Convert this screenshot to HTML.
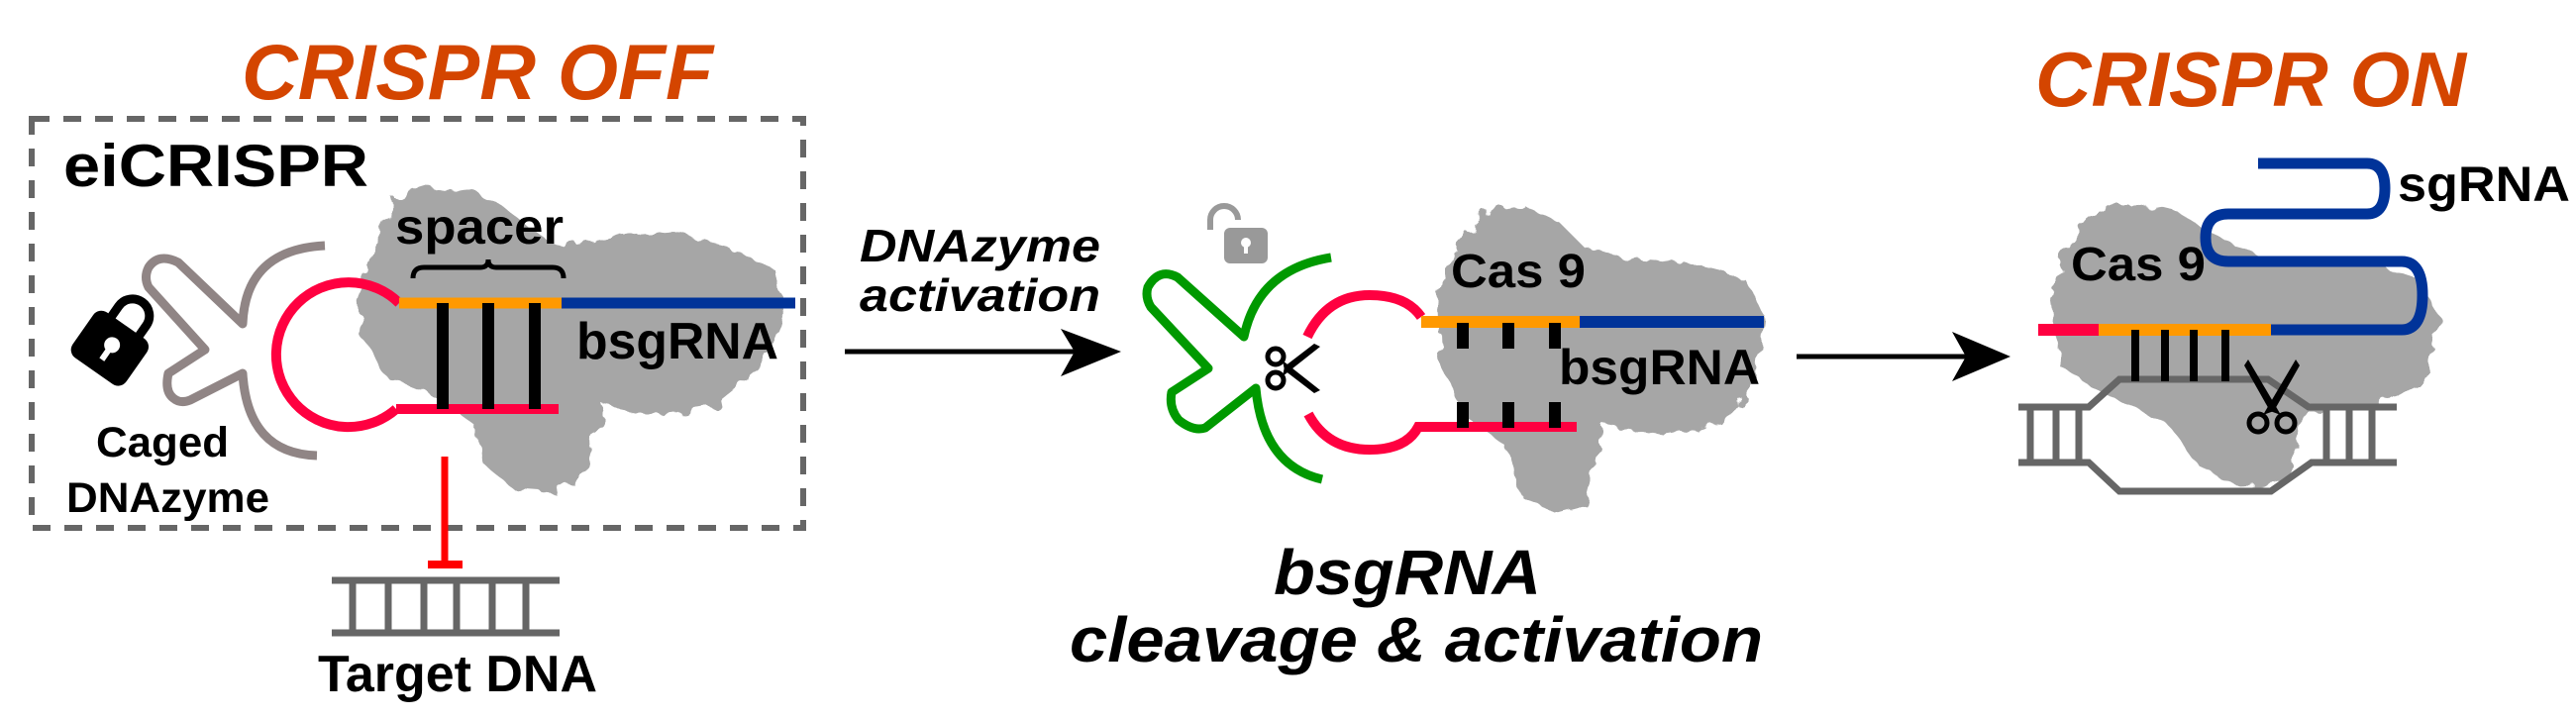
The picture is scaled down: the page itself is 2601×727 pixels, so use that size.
<!DOCTYPE html>
<html><head><meta charset="utf-8"><style>
html,body{margin:0;padding:0;background:#fff;}
svg{display:block;}
text{font-family:"Liberation Sans",Arial,sans-serif;font-weight:bold;}
</style></head><body>
<svg width="2601" height="727" viewBox="0 0 2601 727" xmlns="http://www.w3.org/2000/svg">
<defs>
<filter id="bump" x="-10%" y="-10%" width="120%" height="120%">
<feTurbulence type="fractalNoise" baseFrequency="0.06" numOctaves="2" seed="3" result="n"/>
<feDisplacementMap in="SourceGraphic" in2="n" scale="18"/>
</filter>
</defs>

<!-- Cas9 blobs -->
<g fill="#a2a2a2" filter="url(#bump)" opacity="0.95">
<path d="M361,290 L380,240 L400,200 L440,188 L480,195 L510,210 L540,235 L570,250 L620,240 L680,235 L740,250 L785,275 L790,320 L770,370 L720,410 L660,420 L610,410 L600,440 L590,480 L560,498 L520,495 L490,470 L480,430 L440,400 L390,380 L365,340 Z"/>
<path d="M1452,300 L1470,250 L1500,215 L1540,208 L1575,225 L1600,250 L1640,260 L1700,265 L1760,280 L1783,320 L1775,380 L1740,430 L1680,440 L1620,430 L1610,470 L1600,510 L1570,518 L1535,500 L1520,450 L1480,420 L1455,370 Z"/>
<path d="M2070,300 L2085,250 L2110,220 L2150,203 L2200,215 L2240,240 L2300,265 L2380,260 L2440,280 L2464,320 L2450,380 L2400,410 L2330,415 L2320,450 L2300,490 L2260,492 L2220,470 L2190,430 L2130,400 L2080,370 Z"/>
</g>

<!-- titles -->
<text x="244" y="100" font-size="79" font-style="italic" fill="#d44500" textLength="476" lengthAdjust="spacingAndGlyphs">CRISPR OFF</text>
<text x="2055" y="107" font-size="78" font-style="italic" fill="#d44500" textLength="435" lengthAdjust="spacingAndGlyphs">CRISPR ON</text>

<!-- dashed box -->
<rect x="32" y="120" width="779" height="413" fill="none" stroke="#666" stroke-width="6" stroke-dasharray="18,14"/>
<text x="64" y="188" font-size="60" textLength="308" lengthAdjust="spacingAndGlyphs">eiCRISPR</text>

<!-- gray caged DNAzyme -->
<g fill="none" stroke="#908585" stroke-width="9" stroke-linejoin="round">
<path d="M328,248 Q248,252 245,327 L180,265 Q160,255 150,270 Q145,280 150,290 L207,353 L170,377 Q166,395 175,402 Q182,408 192,404 L245,377 Q250,458 320,460"/>
</g>
<!-- lock -->
<g transform="translate(112,350) rotate(35)">
<path d="M-17,-22 L-17,-38 A17,17 0 0 1 17,-38 L17,-22" fill="none" stroke="#000" stroke-width="9"/>
<rect x="-33" y="-26" width="66" height="56" rx="10" fill="#000"/>
<circle cx="0" cy="-2" r="8" fill="#fff"/>
<rect x="-3" y="0" width="6" height="16" fill="#fff"/>
</g>
<text x="97" y="461" font-size="43" textLength="134" lengthAdjust="spacingAndGlyphs">Caged</text>
<text x="67" y="517" font-size="43" textLength="205" lengthAdjust="spacingAndGlyphs">DNAzyme</text>

<!-- left construct -->
<path d="M403,306 A73,73 0 1 0 400,413" fill="none" stroke="#ff0040" stroke-width="10"/>
<line x1="400" y1="413" x2="564" y2="413" stroke="#ff0040" stroke-width="10"/>
<line x1="403" y1="306" x2="567" y2="306" stroke="#ff9900" stroke-width="11"/>
<line x1="567" y1="306" x2="803" y2="306" stroke="#003399" stroke-width="11"/>
<g stroke="#000" stroke-width="12">
<line x1="447" y1="306" x2="447" y2="413"/><line x1="493" y1="306" x2="493" y2="413"/><line x1="540" y1="306" x2="540" y2="413"/>
</g>
<path d="M417,281 Q417,270 428,270 L485,270 Q493,270 493,262 Q493,270 501,270 L558,270 Q569,270 569,281" fill="none" stroke="#000" stroke-width="5"/>
<text x="399" y="246" font-size="50" textLength="170" lengthAdjust="spacingAndGlyphs">spacer</text>
<text x="582" y="362" font-size="52" textLength="204" lengthAdjust="spacingAndGlyphs">bsgRNA</text>

<!-- inhibition -->
<line x1="449" y1="461" x2="449" y2="570" stroke="#ff0000" stroke-width="7"/>
<line x1="432" y1="570" x2="467" y2="570" stroke="#ff0000" stroke-width="8"/>
<g stroke="#666" stroke-width="7">
<line x1="335" y1="586" x2="565" y2="586"/><line x1="335" y1="639" x2="565" y2="639"/>
<line x1="356" y1="586" x2="356" y2="639"/><line x1="392" y1="586" x2="392" y2="639"/><line x1="428" y1="586" x2="428" y2="639"/>
<line x1="461" y1="586" x2="461" y2="639"/><line x1="497" y1="586" x2="497" y2="639"/><line x1="531" y1="586" x2="531" y2="639"/>
</g>
<text x="321" y="698" font-size="52" textLength="282" lengthAdjust="spacingAndGlyphs">Target DNA</text>

<!-- arrow 1 -->
<line x1="853" y1="355" x2="1085" y2="355" stroke="#000" stroke-width="5"/>
<path d="M1071,332 L1132,355 L1071,380 L1085,355 Z" fill="#000"/>
<text x="868" y="264" font-size="46" font-style="italic" textLength="243" lengthAdjust="spacingAndGlyphs">DNAzyme</text>
<text x="868" y="314" font-size="46" font-style="italic" textLength="243" lengthAdjust="spacingAndGlyphs">activation</text>

<!-- unlock icon -->
<g fill="#999">
<path d="M1222,232 L1222,222 A14,14 0 0 1 1250,222" fill="none" stroke="#999" stroke-width="6"/>
<rect x="1236" y="230" width="44" height="36" rx="6"/>
<circle cx="1258" cy="245" r="5" fill="#fff"/><rect x="1256" y="246" width="4" height="10" fill="#fff"/>
</g>

<!-- green DNAzyme -->
<path d="M1344,260 Q1270,272 1256,340 L1189,280 Q1170,270 1159,290 Q1156,300 1162,310 L1220,372 L1183,396 Q1180,412 1190,424 Q1205,436 1217,432 L1268,392 Q1275,470 1335,484" fill="none" stroke="#009900" stroke-width="9" stroke-linejoin="round"/>

<!-- scissors mid -->
<g transform="translate(1305,372)">
<circle cx="-17" cy="-12" r="8" fill="none" stroke="#000" stroke-width="5"/>
<circle cx="-17" cy="12" r="8" fill="none" stroke="#000" stroke-width="5"/>
<path d="M-10,-8 L28,22 L22,25 L-8,2 Z" fill="#000"/>
<path d="M-10,8 L28,-22 L22,-25 L-8,-2 Z" fill="#000"/>
</g>

<!-- mid construct -->
<path d="M1320,340 Q1340,298 1383,298 Q1420,298 1435,320" fill="none" stroke="#ff0040" stroke-width="10"/>
<path d="M1321,418 Q1340,454 1383,454 Q1420,454 1432,431 L1592,431" fill="none" stroke="#ff0040" stroke-width="10"/>
<line x1="1435" y1="325" x2="1595" y2="325" stroke="#ff9900" stroke-width="12"/>
<line x1="1595" y1="325" x2="1781" y2="325" stroke="#003399" stroke-width="12"/>
<g stroke="#000" stroke-width="12">
<line x1="1477" y1="326" x2="1477" y2="352"/><line x1="1523" y1="326" x2="1523" y2="352"/><line x1="1570" y1="326" x2="1570" y2="352"/>
<line x1="1477" y1="406" x2="1477" y2="432"/><line x1="1523" y1="406" x2="1523" y2="432"/><line x1="1570" y1="406" x2="1570" y2="432"/>
</g>
<text x="1465" y="290" font-size="48" textLength="136" lengthAdjust="spacingAndGlyphs">Cas 9</text>
<text x="1574" y="388" font-size="50" textLength="203" lengthAdjust="spacingAndGlyphs">bsgRNA</text>
<text x="1286" y="600" font-size="64" font-style="italic" textLength="270" lengthAdjust="spacingAndGlyphs">bsgRNA</text>
<text x="1080" y="668" font-size="64" font-style="italic" textLength="700" lengthAdjust="spacingAndGlyphs">cleavage &amp; activation</text>

<!-- arrow 2 -->
<line x1="1814" y1="360" x2="1985" y2="360" stroke="#000" stroke-width="5"/>
<path d="M1971,335 L2030,360 L1971,385 L1985,360 Z" fill="#000"/>

<!-- right DNA -->
<g fill="none" stroke="#666" stroke-width="7">
<path d="M2038,411 L2109,411 L2140,383 L2290,383 L2331,411 L2420,411"/>
<path d="M2038,467 L2109,467 L2140,496 L2293,496 L2334,467 L2420,467"/>
<line x1="2050" y1="411" x2="2050" y2="467"/><line x1="2076" y1="411" x2="2076" y2="467"/><line x1="2099" y1="411" x2="2099" y2="467"/>
<line x1="2349" y1="411" x2="2349" y2="467"/><line x1="2372" y1="411" x2="2372" y2="467"/><line x1="2395" y1="411" x2="2395" y2="467"/>
</g>
<!-- right construct -->
<line x1="2058" y1="333" x2="2119" y2="333" stroke="#ff0040" stroke-width="12"/>
<line x1="2119" y1="333" x2="2293" y2="333" stroke="#ff9900" stroke-width="12"/>
<path d="M2293,333 L2425,333 Q2446,333 2446,298 Q2446,264 2425,264 L2250,264 Q2227,264 2227,240 Q2227,216 2250,216 L2390,216 Q2408,216 2408,190 Q2408,165 2390,165 L2280,165" fill="none" stroke="#003399" stroke-width="11"/>
<g stroke="#000" stroke-width="8">
<line x1="2156" y1="333" x2="2156" y2="385"/><line x1="2186" y1="333" x2="2186" y2="385"/><line x1="2215" y1="333" x2="2215" y2="385"/><line x1="2247" y1="333" x2="2247" y2="385"/>
</g>
<text x="2091" y="283" font-size="48" textLength="136" lengthAdjust="spacingAndGlyphs">Cas 9</text>
<text x="2421" y="203" font-size="50" textLength="174" lengthAdjust="spacingAndGlyphs">sgRNA</text>
<!-- scissors right -->
<g transform="translate(2294,405)">
<circle cx="-14" cy="22" r="9" fill="none" stroke="#000" stroke-width="5"/>
<circle cx="14" cy="22" r="9" fill="none" stroke="#000" stroke-width="5"/>
<path d="M-9,14 L24,-42 L28,-36 L2,10 Z" fill="#000"/>
<path d="M9,14 L-24,-42 L-28,-36 L-2,10 Z" fill="#000"/>
</g>
</svg>
</body></html>
